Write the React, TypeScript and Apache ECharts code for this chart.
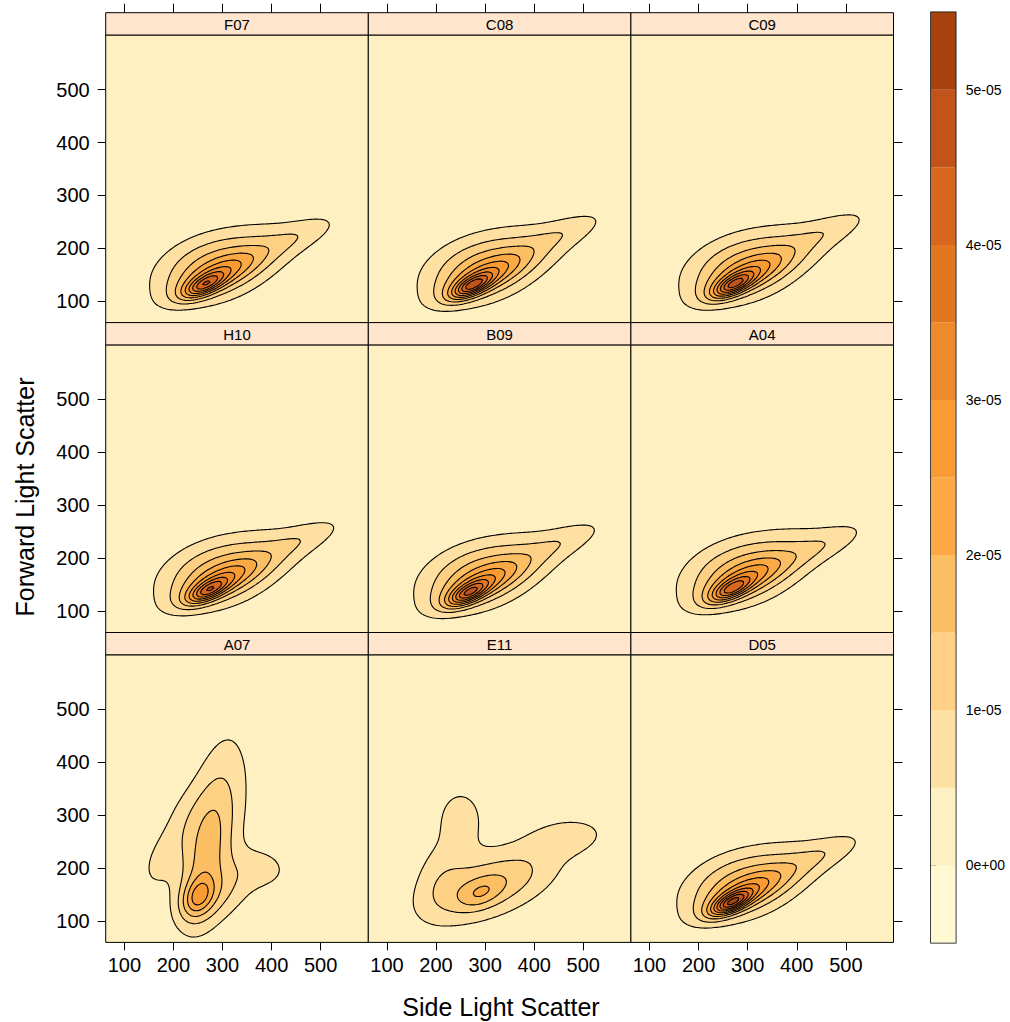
import React, { useEffect, useRef } from "react";
import * as echarts from "echarts";

// Panel names, row by row (top to bottom)
const panelNames = ["F07", "C08", "C09", "H10", "B09", "A04", "A07", "E11", "D05"];

// Density blobs:
// [centre side scatter, centre forward scatter, spread x, spread y, correlation, height (1e-05)]
const blobsF07 = [
  [262, 130, 28, 16, 0.65, 2.1],
  [287, 148, 60, 30, 0.75, 1.3],
  [277, 162, 80, 48, 0.25, 1.2],
  [350, 190, 110, 50, 0.65, 0.7],
  [458, 225, 60, 28, 0.75, 0.45],
];
const blobsC08 = [
  [272, 128, 28, 16, 0.65, 2.5],
  [297, 146, 60, 30, 0.75, 1.3],
  [287, 160, 80, 48, 0.25, 1.2],
  [360, 188, 110, 50, 0.65, 0.7],
  [468, 233, 60, 28, 0.75, 0.45],
];
const blobsC09 = [
  [270, 130, 28, 16, 0.65, 2.4],
  [295, 148, 60, 30, 0.75, 1.3],
  [285, 162, 80, 48, 0.25, 1.2],
  [358, 190, 110, 50, 0.65, 0.7],
  [472, 237, 60, 28, 0.75, 0.45],
];
const blobsH10 = [
  [270, 138, 28, 16, 0.65, 2.1],
  [295, 156, 60, 30, 0.75, 1.3],
  [285, 170, 80, 48, 0.25, 1.2],
  [358, 198, 110, 50, 0.65, 0.7],
  [469, 239, 60, 28, 0.75, 0.45],
];
const blobsB09 = [
  [265, 133, 28, 16, 0.65, 2.3],
  [290, 151, 60, 30, 0.75, 1.3],
  [280, 165, 80, 48, 0.25, 1.2],
  [353, 193, 110, 50, 0.65, 0.7],
  [466, 235, 60, 28, 0.75, 0.45],
];
const blobsA04 = [
  [265, 140, 28, 16, 0.65, 2.0],
  [290, 158, 60, 30, 0.75, 1.3],
  [280, 172, 80, 48, 0.25, 1.2],
  [353, 200, 110, 50, 0.65, 0.7],
  [462, 228, 60, 28, 0.75, 0.45],
];
const blobsA07 = [
  [250, 145, 22, 25, 0.3, 1.36],
  [262, 220, 38, 90, 0.35, 1.3],
  [300, 330, 45, 110, 0.3, 0.75],
  [385, 200, 42, 30, -0.1, 0.6],
  [320, 165, 40, 35, 0.3, 0.35],
  [170, 212, 30, 42, 0.45, 0.56],
  [212, 292, 32, 48, 0.4, 0.38],
  [270, 140, 60, 45, 0.3, 0.4],
];
const blobsE11 = [
  [290, 152, 30, 20, 0.4, 0.7],
  [315, 170, 90, 45, 0.55, 1.0],
  [250, 300, 35, 40, 0.0, 0.7],
  [210, 195, 40, 55, 0.2, 0.5],
  [470, 260, 55, 25, 0.2, 0.7],
  [305, 172, 110, 70, 0.4, 0.45],
];
const blobsD05 = [
  [266, 134, 28, 16, 0.65, 2.8],
  [291, 152, 60, 30, 0.75, 1.3],
  [281, 166, 80, 48, 0.25, 1.2],
  [354, 194, 110, 50, 0.65, 0.7],
  [458, 229, 60, 28, 0.75, 0.45],
];
const panelBlobs = [blobsF07, blobsC08, blobsC09, blobsH10, blobsB09, blobsA04, blobsA07, blobsE11, blobsD05];

// Axes
const xTicks = [100, 200, 300, 400, 500];
const yTicks = [100, 200, 300, 400, 500];
const xRange = [62, 597];
const yRange = [60, 603];

// Density levels (units of 1e-05)
const contourLevels = [0.5, 1, 1.5, 2, 2.5, 3, 3.5, 4, 4.5, 5];
const colorBreaks = [-0.5, 0, 0.5, 1, 1.5, 2, 2.5, 3, 3.5, 4, 4.5, 5, 5.5];
const bandColors = [
  "#FFF8D0", "#FEF0C0", "#FEE1A2", "#FDD084", "#FCBE62", "#FBA945",
  "#F99A33", "#EE8A2A", "#E3771F", "#D8661C", "#C2531A", "#A6420E",
];
const colorbarTicks = [0, 1, 2, 3, 4, 5];

// Evaluation lattice for the density surfaces
const GX0 = 20, GX1 = 640, GY0 = 20, GY1 = 660, STEP = 4;
const NX = Math.round((GX1 - GX0) / STEP) + 1;
const NY = Math.round((GY1 - GY0) / STEP) + 1;

function densityGrid(blobs: number[][]) {
  const v = new Float64Array(NX * NY);
  for (let j = 0; j < NY; j++) {
    const y = GY0 + j * STEP;
    for (let i = 0; i < NX; i++) {
      const x = GX0 + i * STEP;
      let s = 0;
      for (const [cx, cy, sx, sy, r, h] of blobs) {
        const a = (x - cx) / sx, b = (y - cy) / sy;
        const q = (a * a - 2 * r * a * b + b * b) / (1 - r * r);
        s += h * Math.exp(-0.5 * q);
      }
      v[j * NX + i] = s;
    }
  }
  return v;
}

function contourRings(v: Float64Array, L: number) {
  const pts = new Map<string, number[]>();
  const at = (i: number, j: number) => v[j * NX + i];
  const hKey = (i: number, j: number) => {
    const k = "h" + i + "_" + j;
    if (!pts.has(k)) {
      const a = at(i, j), b = at(i + 1, j);
      const t = (L - a) / (b - a);
      pts.set(k, [GX0 + (i + t) * STEP, GY0 + j * STEP]);
    }
    return k;
  };
  const vKey = (i: number, j: number) => {
    const k = "v" + i + "_" + j;
    if (!pts.has(k)) {
      const a = at(i, j), b = at(i, j + 1);
      const t = (L - a) / (b - a);
      pts.set(k, [GX0 + i * STEP, GY0 + (j + t) * STEP]);
    }
    return k;
  };
  const segs: string[][] = [];
  for (let j = 0; j < NY - 1; j++) {
    for (let i = 0; i < NX - 1; i++) {
      const a = at(i, j) >= L, b = at(i + 1, j) >= L, c = at(i + 1, j + 1) >= L, d = at(i, j + 1) >= L;
      const bottom = a !== b, right = b !== c, top = c !== d, left = d !== a;
      const n = +bottom + +right + +top + +left;
      if (n === 0) continue;
      if (n === 2) {
        const e: string[] = [];
        if (bottom) e.push(hKey(i, j));
        if (right) e.push(vKey(i + 1, j));
        if (top) e.push(hKey(i, j + 1));
        if (left) e.push(vKey(i, j));
        segs.push([e[0], e[1]]);
      } else {
        const centre = (at(i, j) + at(i + 1, j) + at(i + 1, j + 1) + at(i, j + 1)) / 4 >= L;
        const B = hKey(i, j), R = vKey(i + 1, j), T = hKey(i, j + 1), Lf = vKey(i, j);
        if (a) {
          if (centre) { segs.push([B, R]); segs.push([T, Lf]); } else { segs.push([B, Lf]); segs.push([R, T]); }
        } else {
          if (centre) { segs.push([B, Lf]); segs.push([R, T]); } else { segs.push([B, R]); segs.push([T, Lf]); }
        }
      }
    }
  }
  const adj = new Map<string, number[]>();
  segs.forEach((s, idx) => {
    for (const k of s) {
      if (!adj.has(k)) adj.set(k, []);
      adj.get(k)!.push(idx);
    }
  });
  const used = new Uint8Array(segs.length);
  const rings: number[][][] = [];
  for (let s = 0; s < segs.length; s++) {
    if (used[s]) continue;
    used[s] = 1;
    const start = segs[s][0];
    let cur = segs[s][1];
    const ring = [pts.get(start)!, pts.get(cur)!];
    let guard = 0;
    while (cur !== start && guard++ < 200000) {
      const cand = adj.get(cur)!.find((k) => !used[k]);
      if (cand === undefined) break;
      used[cand] = 1;
      cur = segs[cand][0] === cur ? segs[cand][1] : segs[cand][0];
      if (cur !== start) ring.push(pts.get(cur)!);
    }
    if (ring.length > 2) rings.push(ring);
  }
  return rings;
}

const FONT = "'Liberation Sans', Arial, Helvetica, sans-serif";

// Layout (pixels)
const PANEL_LEFT = 105.7, PANEL_W = 262.6;
const ROW_TOP = 12.7, ROW_H = 309.9, STRIP_H = 22.3;

function buildOption() {
  const grids: any[] = [];
  const xAxes: any[] = [];
  const yAxes: any[] = [];
  const series: any[] = [];
  const graphics: any[] = [];

  panelNames.forEach((name, k) => {
    const r = Math.floor(k / 3), c = k % 3;
    const left = PANEL_LEFT + c * PANEL_W;
    const stripTop = ROW_TOP + r * ROW_H;
    const top = stripTop + STRIP_H;
    const height = ROW_H - STRIP_H;
    grids.push({
      left, top, width: PANEL_W, height,
      show: true, backgroundColor: bandColors[1], borderColor: "#000", borderWidth: 1,
    });
    xAxes.push({
      type: "value", gridIndex: k, min: xRange[0], max: xRange[1], position: "bottom",
      axisLine: { show: false }, splitLine: { show: false },
      axisTick: { show: r === 2, length: 8, customValues: xTicks, lineStyle: { color: "#000", width: 1 } },
      axisLabel: { show: r === 2, customValues: xTicks, margin: 13, fontSize: 20, color: "#000", fontFamily: FONT },
    });
    yAxes.push({
      type: "value", gridIndex: k, min: yRange[0], max: yRange[1], position: "left",
      axisLine: { show: false }, splitLine: { show: false },
      axisTick: { show: c === 0, length: 8, customValues: yTicks, lineStyle: { color: "#000", width: 1 } },
      axisLabel: { show: c === 0, customValues: yTicks, margin: 16, fontSize: 20, color: "#000", fontFamily: FONT },
    });

    const field = densityGrid(panelBlobs[k]);
    const items: { li: number; ring: number[][] }[] = [];
    contourLevels.forEach((L, li) => {
      contourRings(field, L).forEach((ring) => items.push({ li, ring }));
    });
    series.push({
      type: "custom",
      name: name,
      xAxisIndex: k,
      yAxisIndex: k,
      clip: true,
      silent: true,
      data: items.map((it) => [it.ring[0][0], it.ring[0][1]]),
      renderItem: (params: any, api: any) => {
        const it = items[params.dataIndex];
        return {
          type: "polygon",
          z2: it.li,
          shape: { points: it.ring.map((p) => api.coord(p)) },
          style: { fill: bandColors[it.li + 2], stroke: "#000", lineWidth: 1.1 },
        };
      },
    });

    graphics.push({
      type: "rect",
      shape: { x: left, y: stripTop, width: PANEL_W, height: STRIP_H },
      style: { fill: "#FFE5CC", stroke: "#000", lineWidth: 1 },
    });
    graphics.push({
      type: "text",
      x: left + PANEL_W / 2,
      y: stripTop + STRIP_H / 2 + 1,
      style: { text: name, fontSize: 15, fontFamily: FONT, fill: "#000", textAlign: "center", textVerticalAlign: "middle" },
    });
  });

  // Outer tick marks: top of first row, right of last column
  for (let c = 0; c < 3; c++) {
    xAxes.push({
      type: "value", gridIndex: c, min: xRange[0], max: xRange[1], position: "top", offset: STRIP_H,
      axisLine: { show: false }, splitLine: { show: false }, axisLabel: { show: false },
      axisTick: { show: true, length: 9, customValues: xTicks, lineStyle: { color: "#000", width: 1 } },
    });
  }
  for (let r = 0; r < 3; r++) {
    yAxes.push({
      type: "value", gridIndex: r * 3 + 2, min: yRange[0], max: yRange[1], position: "right",
      axisLine: { show: false }, splitLine: { show: false }, axisLabel: { show: false },
      axisTick: { show: true, length: 9, customValues: yTicks, lineStyle: { color: "#000", width: 1 } },
    });
  }

  // Colour key
  const cbIndex = grids.length;
  grids.push({ left: 931, top: 12.3, width: 24.7, height: 930.4, show: true, borderColor: "#000", borderWidth: 1.5 });
  xAxes.push({ type: "value", gridIndex: cbIndex, min: 0, max: 1, show: false });
  yAxes.push({
    type: "value", gridIndex: cbIndex, min: colorBreaks[0], max: colorBreaks[colorBreaks.length - 1], position: "right",
    axisLine: { show: false }, splitLine: { show: false },
    axisTick: { show: true, length: 5, customValues: colorbarTicks, lineStyle: { color: "#000" } },
    axisLabel: {
      show: true, customValues: colorbarTicks, margin: 10, fontSize: 14, color: "#000", fontFamily: FONT,
      formatter: (v: number) => (v * 1e-5).toExponential(0).replace(/e([+-])(\d)$/, "e$10$2"),
    },
  });
  const bands = colorBreaks.slice(0, -1).map((lo, i) => [lo, colorBreaks[i + 1], i]);
  series.push({
    type: "custom",
    xAxisIndex: xAxes.length - 1,
    yAxisIndex: yAxes.length - 1,
    silent: true,
    data: bands,
    renderItem: (params: any, api: any) => {
      const b = bands[params.dataIndex];
      const p1 = api.coord([0, b[1]]);
      const p2 = api.coord([1, b[0]]);
      return {
        type: "rect",
        shape: { x: p1[0], y: p1[1], width: p2[0] - p1[0], height: p2[1] - p1[1] },
        style: { fill: bandColors[b[2]], stroke: null },
      };
    },
  });

  graphics.push({
    type: "text",
    x: 501,
    y: 1007,
    style: { text: "Side Light Scatter", fontSize: 25, fontFamily: FONT, fill: "#000", textAlign: "center", textVerticalAlign: "middle" },
  });
  graphics.push({
    type: "text",
    x: 25,
    y: 497,
    rotation: Math.PI / 2,
    style: { text: "Forward Light Scatter", fontSize: 25, fontFamily: FONT, fill: "#000", textAlign: "center", textVerticalAlign: "middle" },
  });

  return {
    animation: false,
    backgroundColor: "#fff",
    grid: grids,
    xAxis: xAxes,
    yAxis: yAxes,
    series,
    graphic: graphics,
  };
}

export default function App() {
  const ref = useRef<HTMLDivElement>(null);
  useEffect(() => {
    if (!ref.current) return;
    const chart = echarts.init(ref.current, null, { renderer: "svg" });
    chart.setOption(buildOption() as any);
    return () => chart.dispose();
  }, []);
  return <div ref={ref} style={{ position: "absolute", left: 0, top: 0, width: 1010, height: 1022 }} />;
}
